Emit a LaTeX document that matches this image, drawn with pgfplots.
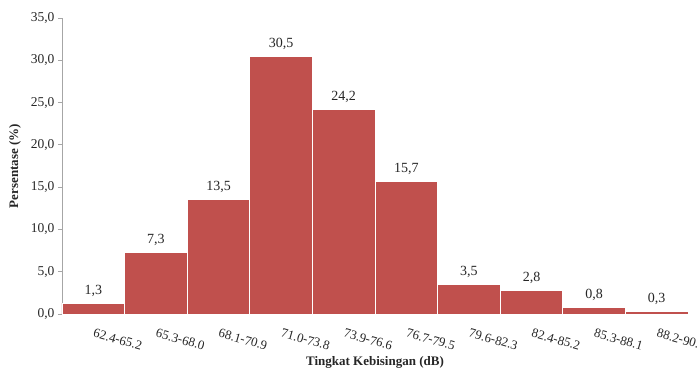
\documentclass[border=0pt]{standalone}
\usepackage{fontspec}
\setmainfont{Liberation Serif}
\usepackage{pgfplots}
\pgfplotsset{compat=1.18}
\definecolor{barred}{HTML}{C0504D}
\definecolor{axgray}{HTML}{A6A6A6}
\definecolor{txt}{HTML}{262626}
\begin{document}
\begin{tikzpicture}
\begin{axis}[
  scale only axis, width=626pt, height=296pt,
  xmin=0, xmax=10, ymin=0, ymax=35,
  ytick={0,5,...,35},
  xtick={0.5,1.5,...,9.5},
  xticklabels={62.4-65.2,65.3-68.0,68.1-70.9,71.0-73.8,73.9-76.6,76.7-79.5,79.6-82.3,82.4-85.2,85.3-88.1,88.2-90.9},
  axis x line*=bottom, axis y line*=left,
  axis line style={axgray, line width=0.8pt, -},
  xtick style={draw=none},
  ytick style={axgray, line width=0.8pt},
  tick align=outside, major tick length=4pt,
  yticklabel style={text=txt, font=\fontsize{13.5}{15}\selectfont, /pgf/number format/.cd, fixed, fixed zerofill, precision=1, use comma, assume math mode=true},
  xticklabel style={text=txt, font=\fontsize{13}{14}\selectfont, rotate=-16, anchor=north west, yshift=-6pt, xshift=1pt},
  ylabel={Persentase (\%)},
  xlabel={Tingkat Kebisingan (dB)},
  ylabel style={text=txt, font=\bfseries\fontsize{13}{15}\selectfont, at={(axis description cs:0,0.5)}, anchor=center, rotate=0, yshift=47pt},
  xlabel style={text=txt, font=\bfseries\fontsize{13}{15}\selectfont, at={(axis description cs:0.5,0)}, anchor=center, yshift=-48pt},
  clip=false,
]
\addplot[ybar, bar width=62.6pt, bar shift=0pt, fill=barred, draw=white, line width=0.8pt,
  nodes near coords={\pgfmathprintnumber[fixed,fixed zerofill,precision=1,use comma,assume math mode=true]{\pgfplotspointmeta}},
  every node near coord/.append style={font=\fontsize{14}{15}\selectfont, text=txt, yshift=3pt}]
coordinates {(0.5,1.3) (1.5,7.3) (2.5,13.5) (3.5,30.5) (4.5,24.2) (5.5,15.7) (6.5,3.5) (7.5,2.8) (8.5,0.8) (9.5,0.3)};
\coordinate (bl) at (rel axis cs:0,0);
\coordinate (tr) at (rel axis cs:1,1);
\end{axis}
\pgfresetboundingbox
\path[use as bounding box] ([xshift=-62pt,yshift=-60pt]bl) rectangle ([xshift=9pt,yshift=18pt]tr);
\end{tikzpicture}
\end{document}
